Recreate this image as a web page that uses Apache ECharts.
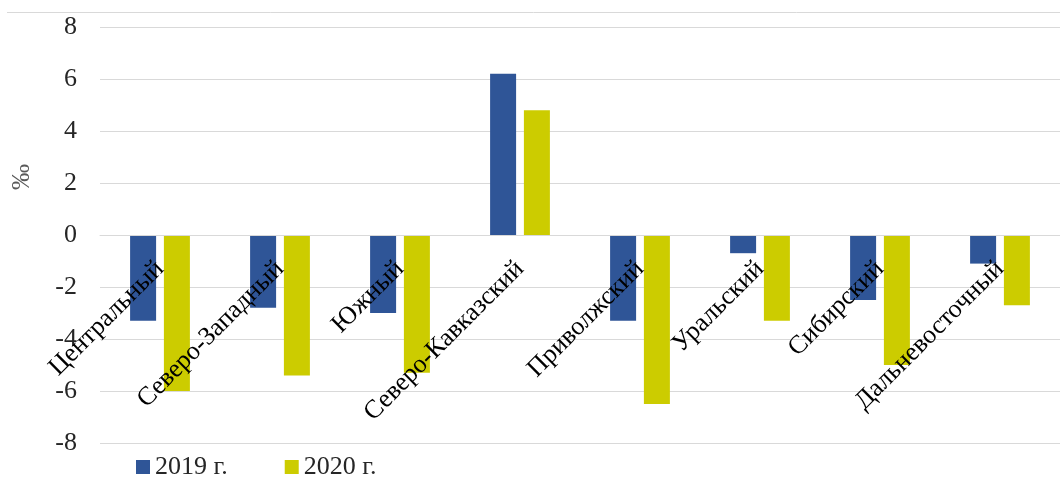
<!DOCTYPE html>
<html><head><meta charset="utf-8">
<script src="https://cdn.jsdelivr.net/npm/echarts@6/dist/echarts.min.js"></script>
<style>html,body{margin:0;padding:0;background:#fff}#c{width:1060px;height:479px}</style>
</head><body><div id="c"></div>
<script>
const categories = ["Центральный","Северо-Западный","Южный","Северо-Кавказский","Приволжский","Уральский","Сибирский","Дальневосточный"];
const values2019 = [-3.3, -2.8, -3.0, 6.2, -3.3, -0.7, -2.5, -1.1];
const values2020 = [-6.0, -5.4, -5.3, 4.8, -6.5, -3.3, -5.0, -2.7];
const seriesNames = ["2019 г.", "2020 г."];
const yTicks = {min: -8, max: 8, interval: 2};
const yName = "‰";

const font = "Liberation Serif";
const chart = echarts.init(document.getElementById('c'));
chart.setOption({
  animation: false,
  textStyle: {fontFamily: font},
  graphic: [
    {type: 'line', shape: {x1: 7, y1: 12.5, x2: 1060, y2: 12.5}, style: {stroke: '#d9d9d9', lineWidth: 1}, silent: true},
    {type: 'text', x: 22, y: 177, rotation: Math.PI / 2, style: {text: yName, font: "26px 'Liberation Serif'", fill: '#595959', align: 'center', verticalAlign: 'middle'}}
  ],
  grid: {left: 100, right: 0, top: 27, bottom: 36, containLabel: false, outerBoundsMode: 'none'},
  legend: {
    bottom: -6, left: 131, itemWidth: 14, itemHeight: 14, itemGap: 57,
    icon: 'rect',
    textStyle: {fontFamily: font, fontSize: 26, color: '#262626'},
    data: seriesNames
  },
  xAxis: {
    type: 'category', data: categories, z: 10,
    offset: -208,
    axisLine: {show: true, onZero: false, lineStyle: {color: '#d9d9d9', width: 1}},
    axisTick: {show: false},
    axisLabel: {rotate: 45, interval: 0, fontFamily: font, fontSize: 26, color: '#000', margin: 30}
  },
  yAxis: {
    type: 'value', min: yTicks.min, max: yTicks.max, interval: yTicks.interval,
    axisLine: {show: false}, axisTick: {show: false},
    axisLabel: {fontFamily: font, fontSize: 26, color: '#262626', margin: 23},
    splitLine: {lineStyle: {color: '#d9d9d9', width: 1}}
  },
  series: [
    {name: seriesNames[0], type: 'bar', data: values2019, barWidth: 26, barGap: '30%', itemStyle: {color: '#2f5597'}},
    {name: seriesNames[1], type: 'bar', data: values2020, barWidth: 26, itemStyle: {color: '#cccc00'}}
  ]
});
</script></body></html>
